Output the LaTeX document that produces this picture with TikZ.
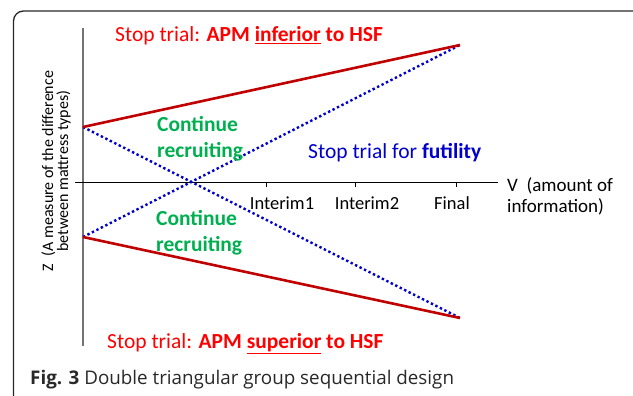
\documentclass[tikz,border=0pt]{standalone}
\usepackage{fontspec}
\setmainfont{Carlito}
\newfontfamily\capfont{Open Sans}
\usetikzlibrary{calc}
\definecolor{redline}{RGB}{192,0,0}
\definecolor{bluedot}{RGB}{0,0,204}
\definecolor{txtred}{RGB}{255,0,0}
\definecolor{txtgreen}{RGB}{0,176,80}
\definecolor{txtblue}{RGB}{0,0,204}
\definecolor{capgray}{RGB}{40,40,40}
\newcommand{\ul}[1]{\underline{#1}}
\tikzset{
  bound/.style={draw=redline, line width=2.6pt},
  futil/.style={draw=bluedot, line width=2.4pt, dash pattern=on 2.4pt off 2.6pt},
  lab/.style={font=\fontsize{18.5}{21}\selectfont, inner sep=0pt},
  big/.style={inner sep=0pt, font=\fontsize{21.5}{24}\selectfont},
  cont/.style={inner sep=0pt, text=txtgreen, font=\fontsize{21.5}{26}\selectfont\bfseries, align=left, anchor=west},
  tickm/.style={draw=black, line width=0.8pt},
}
\begin{document}
\begin{tikzpicture}[x=1pt,y=-1pt]
\useasboundingbox (0,0) rectangle (633,396);
% frame
\draw[line width=1.3pt, draw=black!85, rounded corners=10pt] (13.5,11) rectangle (660,420);
% axes
\coordinate (ytop) at (83,28);
\coordinate (ybot) at (83,346);
\coordinate (xl) at (75,182.5);
\coordinate (xr) at (498,182.5);
\draw[line width=1.2pt, draw=black!55] (ytop) -- (ybot);
\draw[line width=1pt] (xl) -- (xr);
% ticks
\coordinate (t1) at (266.5,182.5);
\coordinate (t2) at (355,182.5);
\coordinate (t3) at (456.5,182.5);
\foreach \t in {t1,t2,t3} \draw[tickm] (\t) -- ++(0,4.5);
% boundary points
\coordinate (A) at (83,127);
\coordinate (B) at (460,45);
\coordinate (C) at (83,237);
\coordinate (D) at (460,318);
\draw[futil] (A) -- (D);
\draw[futil] (C) -- (B);
\draw[bound] (A) -- (B);
\draw[bound] (C) -- (D);
% labels
\node[big, text=txtred, anchor=west] (top) at (115,36) {Stop trial: \textbf{APM \ul{inferior} to HSF}};
\node[big, text=txtred, anchor=west] (bot) at (107,344) {Stop trial: \textbf{APM \ul{superior} to HSF}};
\node[cont] (c1) at (157,139) {Continue\\recruiting};
\node[cont] (c2) at (156,233) {Continue\\recruiting};
\node[big, text=txtblue, anchor=west] (fut) at (308,153) {Stop trial for \textbf{futility}};
\node[lab, anchor=center] (i1) at (282,203.5) {Interim1};
\node[lab, anchor=center] (i2) at (367,203.5) {Interim2};
\node[lab, anchor=center] (fi) at (452,203.5) {Final};
\node[anchor=north west, inner sep=0pt, align=left, font=\fontsize{19}{21}\selectfont] (vl) at (507,177) {V\ \ (amount of\\information)};
\node[inner sep=0pt, rotate=90, align=center, font=\fontsize{16}{13.5}\selectfont] (zl) at (56,171) {Z\ \ (A measure of the difference\\between mattress types)};
% caption
\node[inner sep=0pt, anchor=west, text=capgray, font=\capfont\fontsize{18.8}{22}\selectfont] (cap) at (30,380) {\textbf{Fig. 3} Double triangular group sequential design};
\end{tikzpicture}
\end{document}
